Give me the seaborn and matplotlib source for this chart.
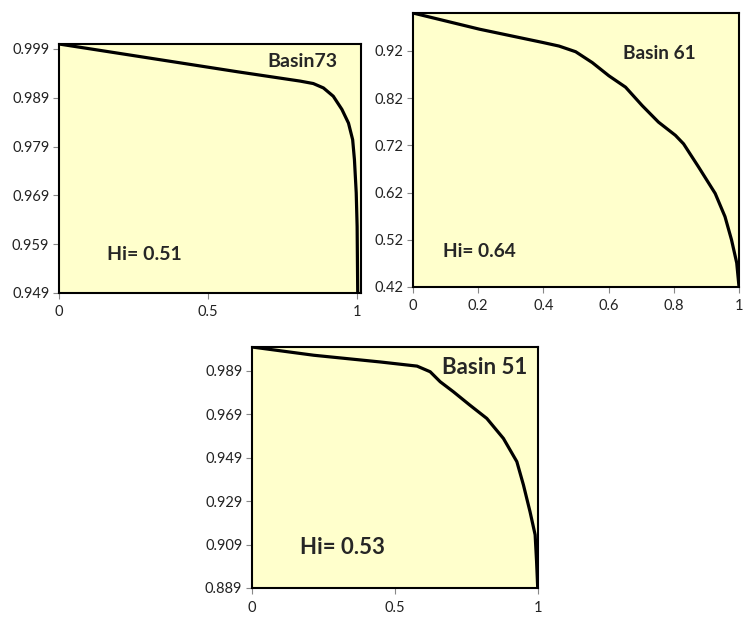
#Hypsometric curves for three basins, drawn with seaborn
import pandas as pd
from matplotlib import pyplot as plt
import seaborn as sns

#curve values (relative area, relative height)
b73_x = [0.0, 0.2, 0.4, 0.6, 0.809, 0.853, 0.887, 0.920, 0.949, 0.971, 0.985,
         0.991, 0.997, 1.0, 1.002]
b73_y = [1.0, 0.9981, 0.9962, 0.9943, 0.9924, 0.9919, 0.9910, 0.9893, 0.9866, 0.9838,
         0.9804, 0.9763, 0.9695, 0.9626, 0.949]

b61_x = [0.0, 0.204, 0.398, 0.448, 0.499, 0.55, 0.601, 0.652, 0.703, 0.753, 0.805,
         0.830, 0.876, 0.927, 0.957, 0.977, 0.993, 1.0]
b61_y = [1.0, 0.9657, 0.9376, 0.930, 0.918, 0.895, 0.867, 0.843, 0.804, 0.769, 0.741,
         0.723, 0.674, 0.618, 0.569, 0.52, 0.471, 0.421]

b51_x = [0.0, 0.216, 0.449, 0.577, 0.623, 0.658, 0.704, 0.762, 0.821, 0.879, 0.926,
         0.949, 0.972, 0.99, 0.995, 0.999]
b51_y = [1.0, 0.9962, 0.9931, 0.9912, 0.9886, 0.984, 0.9794, 0.9732, 0.9671, 0.9579,
         0.9472, 0.9365, 0.9242, 0.9135, 0.9012, 0.889]

basins = ["Basin73", "Basin 61", "Basin 51"]
hi_labels = ["Hi= 0.51", "Hi= 0.64", "Hi= 0.53"]
y_ticks = [[0.949, 0.959, 0.969, 0.979, 0.989, 0.999],
           [0.42, 0.52, 0.62, 0.72, 0.82, 0.92],
           [0.889, 0.909, 0.929, 0.949, 0.969, 0.989]]
x_ticks = [[0, 0.5, 1], [0, 0.2, 0.4, 0.6, 0.8, 1], [0, 0.5, 1]]
y_lims = [(0.949, 1.0), (0.42, 1.0), (0.889, 1.0)]
x_lims = [(0, 1.013), (0, 1.0), (0, 1.0)]

sns.set_style("white")
plt.rcParams['font.family'] = ['Lato', 'DejaVu Sans']

W, H = 743, 618
fig = plt.figure(figsize=(W / 100, H / 100), dpi=100)

#axes boxes in pixels: left, top, right, bottom
boxes = [(59, 44, 361, 293), (413, 13, 739, 287), (252, 347, 538, 588)]
#title and Hi label positions in axes fractions
title_pos = [(0.805, 0.928), (0.756, 0.854), (0.815, 0.913)]
hi_pos = [(0.159, 0.153), (0.091, 0.128), (0.168, 0.166)]
txt_size = [14, 13.8, 16]

curves = [(b73_x, b73_y), (b61_x, b61_y), (b51_x, b51_y)]

for i, (l, t, r, b) in enumerate(boxes):
    ax = fig.add_axes([l / W, 1 - b / H, (r - l) / W, (b - t) / H])
    df = pd.DataFrame({'area': curves[i][0], 'height': curves[i][1]})
    sns.lineplot(data=df, x='area', y='height', ax=ax, color='black',
                 linewidth=2.3, estimator=None, sort=False)
    ax.set_facecolor('#FFFFCC')
    ax.set_xlim(*x_lims[i])
    ax.set_ylim(*y_lims[i])
    ax.set_xticks(x_ticks[i])
    ax.set_xticklabels([f'{v:g}' for v in x_ticks[i]])
    ax.set_yticks(y_ticks[i])
    ax.set_yticklabels([f'{v:g}' for v in y_ticks[i]])
    ax.tick_params(axis='both', length=4, width=0.8, color='#888888',
                   labelsize=10.5, labelcolor='#222222', direction='out',
                   bottom=True, left=True, pad=3)
    ax.tick_params(axis='x', pad=5)
    for s in ax.spines.values():
        s.set_color('black')
        s.set_linewidth(1.5)
    ax.set(xlabel='', ylabel='')
    ax.text(*title_pos[i], basins[i], transform=ax.transAxes, ha='center',
            va='center', fontsize=txt_size[i], fontweight='bold')
    ax.text(*hi_pos[i], hi_labels[i], transform=ax.transAxes, ha='left',
            va='center', fontsize=txt_size[i], fontweight='bold')

fig.savefig('out.png', dpi=100)
